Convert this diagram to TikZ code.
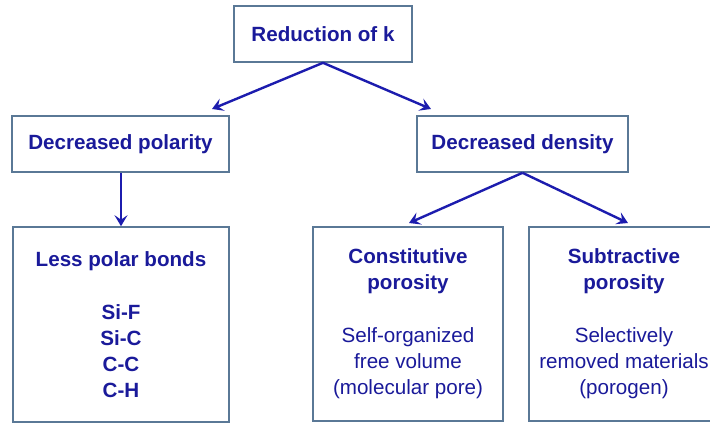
\documentclass[tikz,border=0pt]{standalone}
\usepackage{fontspec}
\setmainfont{Liberation Sans}
\usetikzlibrary{arrows.meta}
\definecolor{txtblue}{HTML}{1A1A9A}
\definecolor{arrblue}{HTML}{1C1CAE}
\definecolor{boxedge}{HTML}{5A7896}
\tikzset{
  boxnode/.style={draw=boxedge, line width=1.6pt, fill=white, inner sep=0pt, align=center, text=txtblue},
  headtext/.style={font=\fontsize{20.6}{26}\selectfont\bfseries},
  bodytext/.style={font=\fontsize{20.6}{26}\selectfont},
  conn/.style={draw=arrblue, line width=2.4pt, -{Stealth[length=11pt,width=13pt,inset=4.5pt]}}
}
\begin{document}
\begin{tikzpicture}[x=1pt,y=-1pt]
\useasboundingbox (0,0) rectangle (710,423);
\fill[white] (0,0) rectangle (710,423);
% boxes
\node[boxnode, headtext, minimum width=178pt, minimum height=56pt] (red) at (323,34) {Reduction of k};
\node[boxnode, headtext, minimum width=217pt, minimum height=56pt] (pol) at (120.5,144) {Decreased polarity};
\node[boxnode, headtext, minimum width=211pt, minimum height=56pt] (den) at (522.5,144) {Decreased density};
\node[boxnode, headtext, minimum width=216pt, minimum height=195pt] (less) at (121,324.5)
  {Less polar bonds\\[27pt]Si-F\\Si-C\\C-C\\C-H};
\node[boxnode, bodytext, minimum width=190pt, minimum height=194pt] (cons) at (408,324)
  {\bfseries Constitutive\\\bfseries porosity\\[27pt]Self-organized\\free volume\\(molecular pore)};
\node[boxnode, bodytext, minimum width=190pt, minimum height=194pt] (subt) at (624,324)
  {\bfseries Subtractive\\\bfseries porosity\\[27pt]Selectively\\removed materials\\(porogen)};
% connectors
\coordinate (rl) at (212,109);
\coordinate (rr) at (431,109);
\draw[conn] (red.south) -- (rl);
\draw[conn] (red.south) -- (rr);
\draw[conn] (pol.south -| less.north) -- (less.north);
\coordinate (dl) at (409,223);
\coordinate (dr) at (628,223);
\draw[conn] (den.south) -- (dl);
\draw[conn] (den.south) -- (dr);
\end{tikzpicture}
\end{document}
